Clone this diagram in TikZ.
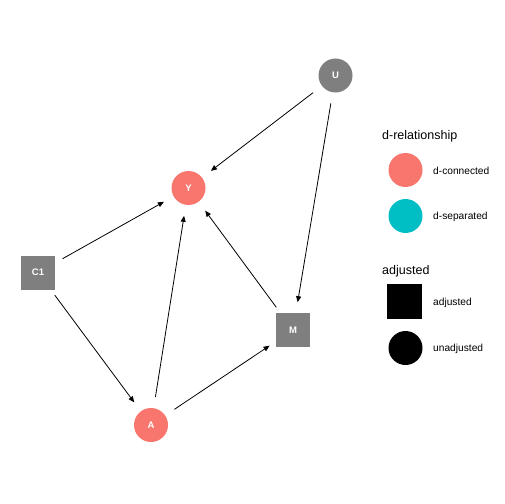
\documentclass[tikz,border=0pt]{standalone}
\usepackage{fontspec}
\setmainfont{Liberation Sans}
\usetikzlibrary{arrows.meta,calc}
\definecolor{dconn}{HTML}{F8766D}
\definecolor{dsep}{HTML}{00BFC4}
\definecolor{nodegray}{HTML}{7F7F7F}
\tikzset{
  dagnode/.style={circle, inner sep=0pt, minimum size=56bp,
    font=\fontsize{9.5bp}{11bp}\selectfont\bfseries, text=white},
  roundnode/.style={dagnode, path picture={
    \fill[#1] (path picture bounding box.center) circle (17bp);}},
  boxnode/.style={dagnode, path picture={
    \fill[#1] ($(path picture bounding box.center)+(-17bp,-17bp)$) rectangle ++(34bp,34bp);}},
  edge/.style={line width=0.8bp, -{Triangle[length=6bp,width=5bp]}},
  legtitle/.style={anchor=base west, inner sep=0pt, font=\fontsize{12.5bp}{14bp}\selectfont},
  leglabel/.style={anchor=west, inner sep=0pt, font=\fontsize{10.2bp}{12bp}\selectfont},
}
\begin{document}
\begin{tikzpicture}[x=1bp, y=-1bp]
  \fill[white] (0,0) rectangle (504,504);
  \useasboundingbox (0,0) rectangle (504,504);

  % causal graph nodes
  \node[roundnode=nodegray] (U) at (335.5,75.5) {U};
  \node[roundnode=dconn] (Y) at (188.5,188) {Y};
  \node[boxnode=nodegray] (C1) at (38,272.5) {C1};
  \node[boxnode=nodegray] (M) at (293,330) {M};
  \node[roundnode=dconn] (A) at (151,425) {A};

  % directed edges
  \draw[edge] (U) -- (Y);
  \draw[edge] (U) -- (M);
  \draw[edge] (C1) -- (Y);
  \draw[edge] (C1) -- (A);
  \draw[edge] (A) -- (Y);
  \draw[edge] (A) -- (M);
  \draw[edge] (M) -- (Y);

  % legend: d-relationship
  \node[legtitle] (t1) at (382,140) {d-relationship};
  \node[circle, fill=dconn, minimum size=34bp, inner sep=0pt] (k1) at (405.5,170) {};
  \node[leglabel] (l1) at (433,171) {d-connected};
  \node[circle, fill=dsep, minimum size=34bp, inner sep=0pt] (k2) at (405.5,216) {};
  \node[leglabel] (l2) at (433,217) {d-separated};

  % legend: adjusted
  \node[legtitle] (t2) at (382,274) {adjusted};
  \node[rectangle, fill=black, minimum size=35bp, inner sep=0pt] (k3) at (404,301.5) {};
  \node[leglabel] (l3) at (433,303) {adjusted};
  \node[circle, fill=black, minimum size=34bp, inner sep=0pt] (k4) at (405.5,348) {};
  \node[leglabel] (l4) at (433,349) {unadjusted};
\end{tikzpicture}
\end{document}
